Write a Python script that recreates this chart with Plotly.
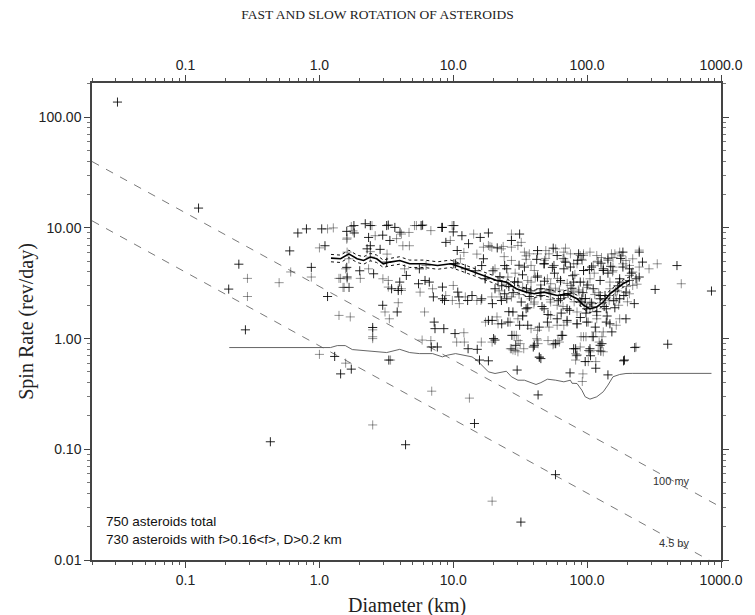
import plotly.graph_objects as go

# ---------------- data ----------------
# Asteroids drawn with dark crosses: diameter (km) and spin rate (rev/day)
dark_D = [0.031, 0.125, 0.21, 0.25, 0.28, 0.43, 0.60, 0.69, 0.80, 0.87, 1.15, 1.3, 1.44, 1.73, 1.04, 1.1,
          4.4, 14.4, 32, 58, 43, 3.3, 18.3, 30, 74.5, 116, 143, 187, 227, 400, 469, 322, 849, 245, 225,
          1.6, 1.82, 1.81, 1.6, 1.61, 2.2, 3.27, 3.66, 2.33, 2.97, 3.36, 2.4, 2.84, 2.0, 2.54, 3.46, 3.88,
          2.97, 3.81, 2.5, 5.9, 8.2, 10, 11.6, 15.9, 18.3, 31.3, 27.2, 21.3, 8.8, 10.7, 13, 16.8, 10.1,
          5.5, 6.15, 7.1, 8.6, 10.8, 12.8, 19.6, 25.1, 7.2, 7.3, 6.85, 10.3, 12.9, 15.7, 19.5, 23, 27.9,
          31.3, 29.3, 35, 42.6, 55.8, 59.7, 86.3, 108, 143, 185, 259, 207, 132, 75, 47.7, 45.1, 67, 91.3,
          125, 175, 232, 47.7, 70.8, 99.3, 139, 195, 111, 79.3, 43.9, 59.7, 84, 115, 148, 65, 111, 58.2,
          105, 43.9, 96.7, 190, 27.4, 39.6, 82, 106, 129, 153, 15.1, 7.6, 20, 8.5,
          2.4, 3.18, 4.0, 5.75, 8.3, 10.1,
          19.8, 22.3, 25.1, 28.7, 32.9, 35.2, 20.5, 24.2, 17.3, 14.6, 12.3, 10.4,
          2.27, 3.18, 3.98, 4.46, 5.58, 6.62, 8.3, 8.3, 11, 13.8,
          16.3, 24.2, 34, 47.7, 67, 94, 132, 185, 245, 21.6, 30.4, 42.6, 63.3, 88.8, 125, 175,
          16.3, 22.9, 32.2, 45.1, 63.3, 88.8, 125, 175, 18.3, 25.6, 36, 50.5, 70.8, 99.3, 139, 195,
          20.5, 40.3, 79.3, 125, 45.1,
          26, 38, 52, 72, 97, 136, 170, 57, 78, 101, 143, 33, 46, 64, 89, 118, 161,
          23, 28, 37, 48, 61, 77, 93, 108, 134, 158, 188, 214, 31, 42, 55, 69, 85, 104, 127, 150, 178,
          26, 36, 51, 74, 98, 141]
dark_R = [137, 15.1, 2.8, 4.7, 1.2, 0.117, 6.2, 9.0, 9.8, 4.4, 2.4, 0.69, 0.48, 0.53, 9.8, 6.9,
          0.11, 0.171, 0.022, 0.059, 0.31, 0.64, 0.63, 0.52, 0.49, 0.54, 0.47, 0.63, 0.83, 0.89, 4.57, 2.78, 2.69, 6.04, 2.07,
          9.3, 9.0, 10.5, 4.4, 3.6, 10.9, 10.6, 10.1, 8.2, 8.6, 7.7, 6.9, 6.4, 4.1, 3.85, 2.82, 2.72,
          2.0, 1.74, 1.26, 10.6, 10.1, 9.2, 8.5, 8.2, 9.0, 8.8, 7.7, 6.6, 7.4, 6.25, 7.2, 5.26, 4.74,
          3.13, 3.35, 2.38, 2.21, 2.63, 2.21, 2.07, 2.29, 1.41, 1.23, 0.84, 1.11, 0.81, 0.64, 1.46, 1.36, 1.74,
          1.32, 0.87, 1.86, 6.24, 6.56, 5.63, 5.83, 4.43, 5.26, 6.04, 4.91, 4.27, 4.12, 4.43, 4.74, 2.82, 2.45, 2.29,
          2.45, 3.24, 3.47, 1.86, 1.86, 1.86, 1.86, 2.63, 2.82, 3.24, 1.27, 1.51, 1.36, 1.27, 1.36, 1.07, 1.04, 0.90,
          0.81, 0.68, 0.62, 0.64, 1.07, 0.84, 0.81, 0.70, 0.90, 1.15, 0.80, 0.84, 1.0, 1.23,
          10.5, 10.5, 9.14, 10.5, 10.1, 10.5,
          4.1, 3.62, 4.27, 3.26, 3.77, 2.82, 2.82, 2.54, 3.47, 4.1, 4.27, 4.74,
          6.47, 4.91, 3.24, 3.72, 4.27, 3.24, 2.92, 2.29, 2.38, 2.45,
          4.57, 4.57, 4.43, 4.74, 4.27, 4.12, 4.27, 4.43, 3.6, 3.35, 3.24, 3.6, 3.35, 3.24, 3.35, 3.47,
          2.29, 2.21, 2.14, 2.45, 2.29, 2.14, 2.29, 2.29, 1.46, 1.41, 1.32, 1.41, 1.46, 1.41, 1.41, 1.51,
          0.97, 0.87, 0.81, 0.87, 0.66,
          2.95, 2.7, 2.75, 2.55, 2.3, 2.45, 3.0, 3.9, 3.7, 3.05, 3.9, 1.6, 1.95, 1.7, 1.55, 1.75, 1.9,
          3.0, 2.6, 2.4, 3.3, 2.2, 2.85, 2.6, 2.1, 1.95, 2.2, 2.45, 3.9, 4.6, 5.2, 4.4, 4.9, 5.1, 4.2, 4.8, 4.5, 5.3,
          1.75, 1.9, 1.65, 1.8, 1.7, 1.6]

# Asteroids drawn with lighter crosses
light_D = [0.29, 0.29, 0.50, 0.61, 0.87, 1.0, 1.15, 1.27, 1.4, 1.7, 1.0, 1.57, 1.73, 1.78, 1.6, 1.4, 1.5,
           1.67, 1.53, 1.44, 2.5, 2.5, 2.5, 6.9, 13.2, 19.5, 92, 93, 505, 334, 290, 207, 1.61, 2.47, 4.1,
           4.67, 5.13, 2.61, 3.77, 4.2, 4.7, 2.4, 3.2, 1.66, 2.02, 3.27, 4.1, 3.09, 3.88, 3.33, 2.5, 3.4,
           5.3, 6.8, 9.8, 14.2, 27.2, 32.2, 23.6, 18.8, 16.8, 9.5, 12, 15, 11.3, 5.65, 10, 11.1, 16.1,
           22.5, 6.1, 5.85, 10.6, 16.2, 17.4, 21.2, 26.6, 29.6, 27.9, 33, 37, 51.9, 68.9, 67, 94, 84, 121,
           161, 219, 245, 185, 156, 94, 56.5, 38.1, 38.1, 53.4, 79.3, 105, 148, 207, 40.3, 59.7, 84, 118,
           165, 219, 94, 63.3, 50.5, 42.6, 38.1, 51.9, 70.8, 102, 132, 175, 94, 42.6, 88.8, 121, 84, 132,
           232, 67, 53.4, 28.5, 30.5, 33.6, 19.5, 12.1, 12, 6.8, 42, 64, 62, 51, 90, 116, 129, 26.7, 29,
           31.6, 43, 55.6, 60.5, 65.8, 83, 103, 126, 98, 109, 123, 82, 102, 116, 82, 103, 127, 44,
           18.3, 19.4, 22.9, 27.2, 30.4, 34, 42.6, 49.1, 58.2, 67, 75, 88.8, 94, 105, 118, 143, 152, 175,
           195, 207, 245,
           1.61, 1.66, 1.57, 1.61, 2.4, 2.33, 2.98, 3.27, 3.88, 4.1, 4.33, 6.26, 7.0, 8.78, 9.84, 12.3, 15,
           20.5, 27.2, 40.3, 56.5, 79.3, 111, 156, 219, 17.3, 25.6, 36, 53.4, 75, 105, 148, 207,
           19.4, 27.2, 38.1, 53.4, 75, 105, 148, 207, 21.6, 30.4, 42.6, 59.7, 84, 118, 165, 27.2, 56.5,
           105, 84, 30.4,
           24, 35, 49, 68, 92, 128, 180, 29, 41, 60, 81, 113, 155, 22, 31, 44, 62, 87, 122, 168, 236,
           25, 33, 45, 58, 71, 86, 99, 114, 137, 163, 197, 40, 53, 66, 80, 95, 110, 131, 146, 172, 200,
           35, 48, 66, 91, 120, 156]
light_R = [3.5, 2.4, 3.2, 4.0, 3.6, 6.6, 9.8, 10.0, 1.62, 1.57, 0.72, 0.60, 10.3, 9.4, 7.9, 3.5, 2.9,
           2.9, 2.9, 3.5, 0.166, 1.0, 1.2, 0.335, 0.29, 0.034, 0.41, 0.48, 3.13, 4.74, 4.27, 3.35, 8.1, 10.5, 8.8,
           9.1, 10.5, 8.5, 8.0, 6.9, 6.9, 6.1, 5.8, 2.9, 3.5, 3.35, 2.82, 1.74, 2.11, 1.51, 1.04, 0.64,
           10.5, 9.45, 10.5, 8.8, 8.8, 7.4, 6.8, 6.8, 6.7, 7.7, 6.0, 5.8, 5.26, 2.63, 3.02, 2.07, 2.21,
           2.38, 1.74, 0.97, 0.93, 0.93, 1.41, 1.57, 1.41, 1.07, 0.79, 1.62, 5.83, 5.83, 6.56, 5.26, 5.63, 4.74, 4.91,
           5.83, 5.26, 4.43, 4.74, 4.43, 4.12, 4.58, 4.58, 3.24, 2.63, 2.63, 2.14, 2.82, 3.72, 2.14, 2.0, 1.74, 1.62,
           2.29, 3.02, 3.24, 3.24, 3.47, 3.72, 1.23, 1.27, 1.41, 1.41, 1.15, 1.51, 1.04, 0.97, 0.84, 0.78, 0.71, 0.76,
           0.84, 1.32, 1.62, 1.07, 0.96, 0.81, 0.93, 0.93, 1.13, 0.96, 1.0, 1.07, 0.93, 0.96, 1.04, 1.15, 1.04, 0.81, 0.78,
           0.90, 0.90, 0.88, 0.96, 1.07, 0.70, 0.78, 0.77, 1.04, 1.04, 0.93, 0.64, 0.62, 0.62, 0.73, 0.78, 0.77, 0.68,
           6.93, 6.7, 6.47, 6.7, 6.93, 6.04, 5.83, 6.24, 6.47, 6.04, 5.83, 5.63, 5.83, 6.04, 5.63, 5.08, 5.83, 6.04,
           5.08, 4.58, 6.3,
           6.04, 5.26, 4.27, 3.47, 5.45, 4.27, 3.47, 2.92, 2.82, 2.72, 4.27, 4.58, 2.82, 2.45, 2.21, 2.38, 2.21,
           4.27, 5.08, 4.12, 4.57, 4.74, 4.57, 4.12, 3.99, 3.47, 3.6, 3.35, 3.13, 3.02, 3.47, 3.24, 3.35,
           2.38, 2.38, 2.29, 2.14, 2.54, 1.86, 2.45, 2.54, 1.36, 1.51, 1.19, 1.32, 1.36, 1.51, 1.32, 0.81, 0.90,
           0.76, 0.71, 0.76,
           5.5, 5.2, 5.3, 5.0, 5.1, 5.4, 5.6, 3.9, 3.6, 3.5, 3.8, 3.9, 4.0, 2.7, 2.5, 2.6, 2.75, 2.65, 2.6, 2.7, 3.1,
           3.1, 2.9, 3.05, 2.85, 3.15, 2.75, 2.9, 2.5, 2.3, 2.65, 2.95, 2.05, 2.25, 1.95, 2.15, 2.05, 1.95, 2.1, 2.2, 2.0, 2.15,
           5.6, 5.1, 5.3, 5.2, 5.0, 5.4]

# Running mean of spin rate with its uncertainty band
mean_D = [1.22, 1.44, 1.66, 1.91, 2.14, 2.40, 2.68, 3.0, 3.36, 3.98, 4.72, 6.08, 7.63, 9.55, 11.3, 13.4,
          16.8, 21.1, 24.9, 29.6, 35.0, 40.3, 47.7, 59.7, 70.8, 84, 94, 105, 118, 132, 148, 165, 185, 207]
mean_R = [5.33, 5.26, 5.83, 5.26, 5.08, 5.45, 5.26, 4.74, 4.91, 5.08, 4.74, 4.74, 4.57, 4.74, 4.43, 4.12,
          3.72, 3.35, 3.24, 2.82, 2.63, 2.54, 2.63, 2.45, 2.54, 2.29, 2.0, 1.86, 1.93, 2.14, 2.54, 2.82, 3.13, 3.35]
band_hi = [5.76, 5.68, 6.30, 5.68, 5.49, 5.89, 5.68, 5.12, 5.30, 5.49, 5.12, 5.12, 4.94, 5.12, 4.78, 4.45,
           4.02, 3.62, 3.50, 3.05, 2.84, 2.74, 2.84, 2.65, 2.74, 2.47, 2.16, 2.01, 2.08, 2.31, 2.74, 3.05, 3.38, 3.62]
band_lo = [4.94, 4.87, 5.40, 4.87, 4.70, 5.05, 4.87, 4.39, 4.55, 4.70, 4.39, 4.39, 4.23, 4.39, 4.10, 3.81,
           3.44, 3.10, 3.00, 2.61, 2.44, 2.35, 2.44, 2.27, 2.35, 2.12, 1.85, 1.72, 1.79, 1.98, 2.35, 2.61, 2.90, 3.10]

# Lower envelope curve (slow-rotator limit)
slow_D = [0.212, 1.21, 1.36, 1.56, 1.76, 2.08, 2.68, 3.18, 3.98, 4.72, 5.58, 7.0, 8.3, 9.03, 10.4, 12.0,
          13.8, 15.0, 16.3, 18.3, 20.5, 22.9, 24.9, 27.2, 30.4, 34.0, 38.1, 41.5, 45.1, 50.5, 58.2, 67.0,
          75.0, 77.1, 84, 91.3, 96.7, 105, 118, 132, 143, 156, 175, 195, 219, 849]
slow_R = [0.830, 0.830, 0.865, 0.865, 0.796, 0.780, 0.768, 0.748, 0.800, 0.748, 0.732, 0.732, 0.684, 0.708,
          0.732, 0.708, 0.684, 0.638, 0.575, 0.501, 0.484, 0.501, 0.507, 0.452, 0.421, 0.421, 0.400, 0.385,
          0.400, 0.430, 0.421, 0.407, 0.421, 0.395, 0.393, 0.342, 0.298, 0.284, 0.298, 0.331, 0.380, 0.452,
          0.474, 0.484, 0.485, 0.485]

# Spin-down timescale lines (rate vs diameter)
age_D = [0.02, 1000]
age_100my = [39.8, 0.030]
age_4p5by = [11.6, 0.0087]

x_major = [0.1, 1, 10, 100, 1000]
x_labels = ["0.1", "1.0", "10.0", "100.0", "1000.0"]
y_major = [0.01, 0.1, 1, 10, 100]
y_labels = ["0.01", "0.10", "1.00", "10.00", "100.00"]

# ---------------- figure ----------------
x_minor = [m * 10 ** e for e in range(-2, 3) for m in range(2, 10)]
y_minor = [m * 10 ** e for e in range(-2, 3) for m in range(2, 10)]
X_RANGE = [-1.699, 3.0]
Y_RANGE = [-2.0, 2.309]

fig = go.Figure()

for vals in (age_100my, age_4p5by):
    fig.add_trace(go.Scatter(x=age_D, y=vals, mode="lines",
                             line=dict(color="#7a7a7a", width=1, dash="8px,8px"),
                             hoverinfo="skip", showlegend=False))

fig.add_trace(go.Scatter(x=slow_D, y=slow_R, mode="lines",
                         line=dict(color="#555555", width=0.9), showlegend=False))

cross = dict(symbol="cross-thin", size=6.5)
fig.add_trace(go.Scatter(x=light_D, y=light_R, mode="markers", showlegend=False,
                         marker=dict(**cross, line=dict(width=1, color="rgba(0,0,0,0.42)"))))
fig.add_trace(go.Scatter(x=dark_D, y=dark_R, mode="markers", showlegend=False,
                         marker=dict(**cross, line=dict(width=1, color="rgba(0,0,0,0.85)"))))

for vals in (band_hi, band_lo):
    fig.add_trace(go.Scatter(x=mean_D, y=vals, mode="lines", showlegend=False,
                             line=dict(color="#111", width=1, dash="dot")))
fig.add_trace(go.Scatter(x=mean_D, y=mean_R, mode="lines", showlegend=False,
                         line=dict(color="#000", width=1.6)))

tick_font = dict(family="Liberation Sans, Arial, sans-serif", size=14, color="#222")
axis_common = dict(type="log", showgrid=False, zeroline=False, showline=True,
                   linecolor="#444", linewidth=1.5, ticks="outside", ticklen=6,
                   tickcolor="#444", tickwidth=1, tickfont=tick_font)

fig.update_layout(
    width=755, height=615,
    margin=dict(l=92, r=25, t=83, b=55),
    paper_bgcolor="white", plot_bgcolor="white",
    title=dict(text="FAST AND SLOW ROTATION OF ASTEROIDS", x=0.5, xref="container",
               y=1 - 14 / 615, yref="container", xanchor="center", yanchor="middle",
               font=dict(family="Liberation Serif, Times New Roman, serif", size=13.5, color="#222")),
    xaxis=dict(**axis_common, range=X_RANGE, tickmode="array", tickvals=x_major, ticktext=x_labels,
               minor=dict(ticks="outside", ticklen=3, tickcolor="#555", tickmode="array", tickvals=x_minor)),
    xaxis2=dict(**axis_common, range=X_RANGE, overlaying="x", side="top", anchor="y",
                tickmode="array", tickvals=x_major, ticktext=x_labels,
                minor=dict(ticks="outside", ticklen=3, tickcolor="#555", tickmode="array", tickvals=x_minor)),
    yaxis=dict(**axis_common, range=Y_RANGE, tickmode="array", tickvals=y_major, ticktext=y_labels,
               minor=dict(ticks="outside", ticklen=3, tickcolor="#777", tickmode="array", tickvals=y_minor)),
    yaxis2=dict(**axis_common, range=Y_RANGE, overlaying="y", side="right", anchor="x",
                tickmode="array", tickvals=y_major, showticklabels=False,
                minor=dict(ticks="outside", ticklen=3, tickcolor="#777", tickmode="array", tickvals=y_minor)),
)

# invisible traces so the mirrored axes are laid out
fig.add_trace(go.Scatter(x=[1], y=[1], xaxis="x2", yaxis="y", mode="markers",
                         marker=dict(opacity=0), hoverinfo="skip", showlegend=False))
fig.add_trace(go.Scatter(x=[1], y=[1], xaxis="x", yaxis="y2", mode="markers",
                         marker=dict(opacity=0), hoverinfo="skip", showlegend=False))

serif_big = dict(family="Liberation Serif, Times New Roman, serif", size=20, color="#222")
note_font = dict(family="Liberation Sans, Arial, sans-serif", size=13.5, color="#111")
small_font = dict(family="Liberation Sans, Arial, sans-serif", size=11, color="#333")

fig.add_annotation(text="Diameter (km)", xref="paper", yref="paper", x=0.5, y=0,
                   xanchor="center", yanchor="top", yshift=-32, showarrow=False, font=serif_big)
fig.add_annotation(text="Spin Rate (rev/day)", xref="paper", yref="paper", x=-0.1045, y=0.5,
                   xanchor="center", yanchor="middle", textangle=-90, showarrow=False, font=serif_big)
fig.add_annotation(text="750 asteroids total", xref="paper", yref="paper", x=0.0193, y=0.0797,
                   xanchor="left", yanchor="middle", showarrow=False, font=note_font)
fig.add_annotation(text="730 asteroids with f&gt;0.16&lt;f&gt;, D&gt;0.2 km", xref="paper", yref="paper",
                   x=0.0193, y=0.044, xanchor="left", yanchor="middle", showarrow=False, font=note_font)
fig.add_annotation(text="100 my", xref="paper", yref="paper", x=0.9217, y=0.1656,
                   xanchor="center", yanchor="middle", showarrow=False, font=small_font)
fig.add_annotation(text="4.5 by", xref="paper", yref="paper", x=0.9248, y=0.0356,
                   xanchor="center", yanchor="middle", showarrow=False, font=small_font)

fig.write_html("out.html")
